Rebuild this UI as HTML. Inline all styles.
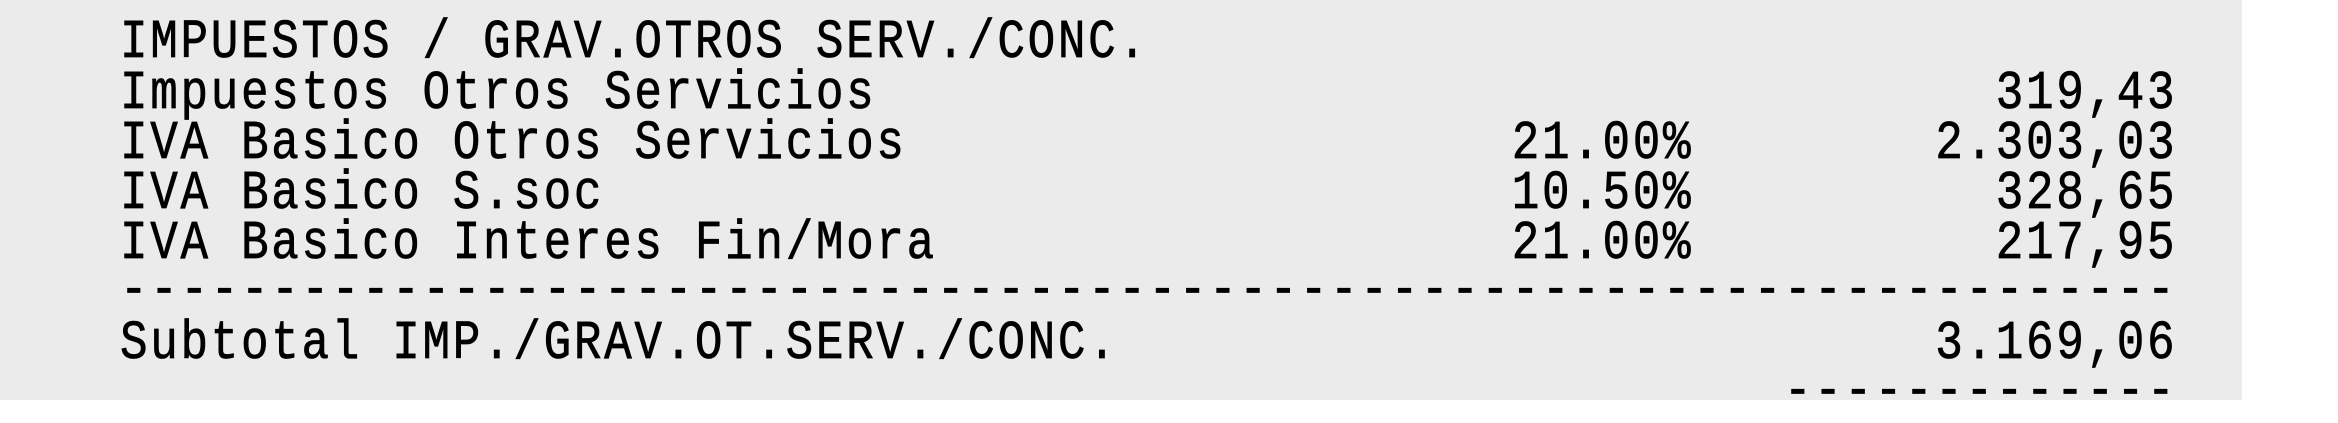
<!DOCTYPE html>
<html><head><meta charset="utf-8"><style>
html,body{margin:0;padding:0;width:2338px;height:400px;overflow:hidden;background:#fff}
.bg{position:absolute;left:0;top:0;width:2242px;height:400px;background:#ebebeb}
.l{position:absolute;left:120px;font-family:"Liberation Mono","DejaVu Sans Mono",monospace;font-size:46px;line-height:46px;letter-spacing:2.65px;white-space:pre;color:#000;margin:0;transform:scaleY(1.18);transform-origin:0 35px;-webkit-text-stroke:0.6px #000}
</style></head><body>
<div class="bg"></div>
<pre class="l" style="top:22px">IMPUESTOS / GRAV.OTROS SERV./CONC.</pre>
<pre class="l" style="top:73px">Impuestos Otros Servicios                                     319,43</pre>
<pre class="l" style="top:123px">IVA Basico Otros Servicios                    21.00%        2.303,03</pre>
<pre class="l" style="top:173px">IVA Basico S.soc                              10.50%          328,65</pre>
<pre class="l" style="top:223px">IVA Basico Interes Fin/Mora                   21.00%          217,95</pre>
<pre class="l" style="top:270px">--------------------------------------------------------------------</pre>
<pre class="l" style="top:323px">Subtotal IMP./GRAV.OT.SERV./CONC.                           3.169,06</pre>
<pre class="l" style="top:371px">                                                       -------------</pre>
</body></html>
